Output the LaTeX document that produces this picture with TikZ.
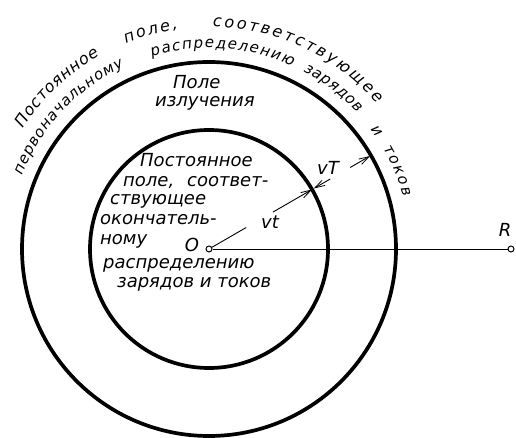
\documentclass[tikz,border=0pt]{standalone}
\usepackage{fontspec}
\setmainfont{DejaVu Sans}
\usetikzlibrary{decorations.text,arrows.meta,calc}
\newcommand\ift{\fontsize{18}{20}\selectfont\itshape}
\newcommand\cft{\fontsize{16}{18}\selectfont\itshape}
\newcommand\cfs{\fontsize{15}{17}\selectfont\itshape}
\tikzset{
  ring/.style={line width=3.7pt},
  thinline/.style={line width=0.9pt},
  barb/.style={thinline,-{Straight Barb[length=10pt,width=6pt,line width=0.8pt]}},
  dot/.style={circle,draw,fill=white,inner sep=0pt,minimum size=6pt,line width=1pt},
  lbl/.style={font=\ift,inner sep=0pt},
  txt/.style={font=\ift,inner sep=0pt,anchor=base west},
  arctext/.style={decorate,decoration={text along path,text={|\cft|#1},text align=fit to path}},
  arctexts/.style={decorate,decoration={text along path,text={|\cfs|#1},text align=fit to path}},
  arctextc/.style={decorate,decoration={text along path,text={|\cfs|#1},text align=center}}
}
\begin{document}
\begin{tikzpicture}[x=1pt,y=1pt]
\useasboundingbox (0,0) rectangle (516,438);
\coordinate (C) at (209,189);
% circles
\draw[ring] (C) circle[radius=187];
\draw[ring] (C) circle[radius=119];
% axis O -- R
\node[dot] (O) at (C) {};
\node[dot] (R) at (511,189) {};
\draw[thinline] (O) -- (R);
\node[lbl] (Olbl) at (192,193) {O};
\node[lbl] (Rlbl) at (505,208) {R};
% radius vt
\coordinate (a1) at ($(C)+(30:43)$);
\coordinate (a2) at ($(C)+(30:74)$);
\coordinate (a3) at ($(C)+(30:119)$);
\draw[thinline] (O) -- (a1);
\draw[barb] (a2) -- (a3);
\node[lbl] (vt) at (270,216) {vt};
% vT
\coordinate (b1) at ($(C)+(30:140)$);
\coordinate (b2) at ($(C)+(30:121)$);
\coordinate (b3) at ($(C)+(30:163)$);
\coordinate (b4) at ($(C)+(30:186)$);
\draw[barb] (b1) -- (b2);
\draw[barb] (b3) -- (b4);
\node[lbl] (vT) at (328,270) {vT};
% radiation field
\node[txt] (t1) at (173,349.7) {Поле};
\node[txt] (t2) at (155,331.3) {излучения};
% inner text
\node[txt] (i1) at (140,271.3) {Постоянное};
\node[txt] (i2) at (123,251.3) {поле,\hspace{0.4em} соответ-};
\node[txt] (i3) at (110,233) {ствующее};
\node[txt] (i4) at (100,213) {окончатель-};
\node[txt] (i5) at (100,193) {ному};
\node[txt] (i6) at (103,169.7) {распределению};
\node[txt] (i7) at (117,150) {зарядов и токов};
% curved text, outer line
\path[arctext={Постоянное}] ($(C)+(147:222)$) arc[start angle=147,end angle=119.5,radius=222];
\path[arctext={поле,}] ($(C)+(112:222)$) arc[start angle=112,end angle=98,radius=222];
\path[arctext={соответствующее}] ($(C)+(89:222)$) arc[start angle=89,end angle=41,radius=222];
% curved text, inner line
\path[arctexts={первоначальному}] ($(C)+(158.5:201)$) arc[start angle=158.5,end angle=115,radius=201];
\path[arctexts={распределению}] ($(C)+(106.5:201)$) arc[start angle=106.5,end angle=65.5,radius=201];
\path[arctexts={зарядов}] ($(C)+(62:201)$) arc[start angle=62,end angle=42.5,radius=201];
\path[arctextc={и}] ($(C)+(37:201)$) arc[start angle=37,end angle=33.5,radius=201];
\path[arctexts={токов}] ($(C)+(30:201)$) arc[start angle=30,end angle=15,radius=201];
\end{tikzpicture}
\end{document}
